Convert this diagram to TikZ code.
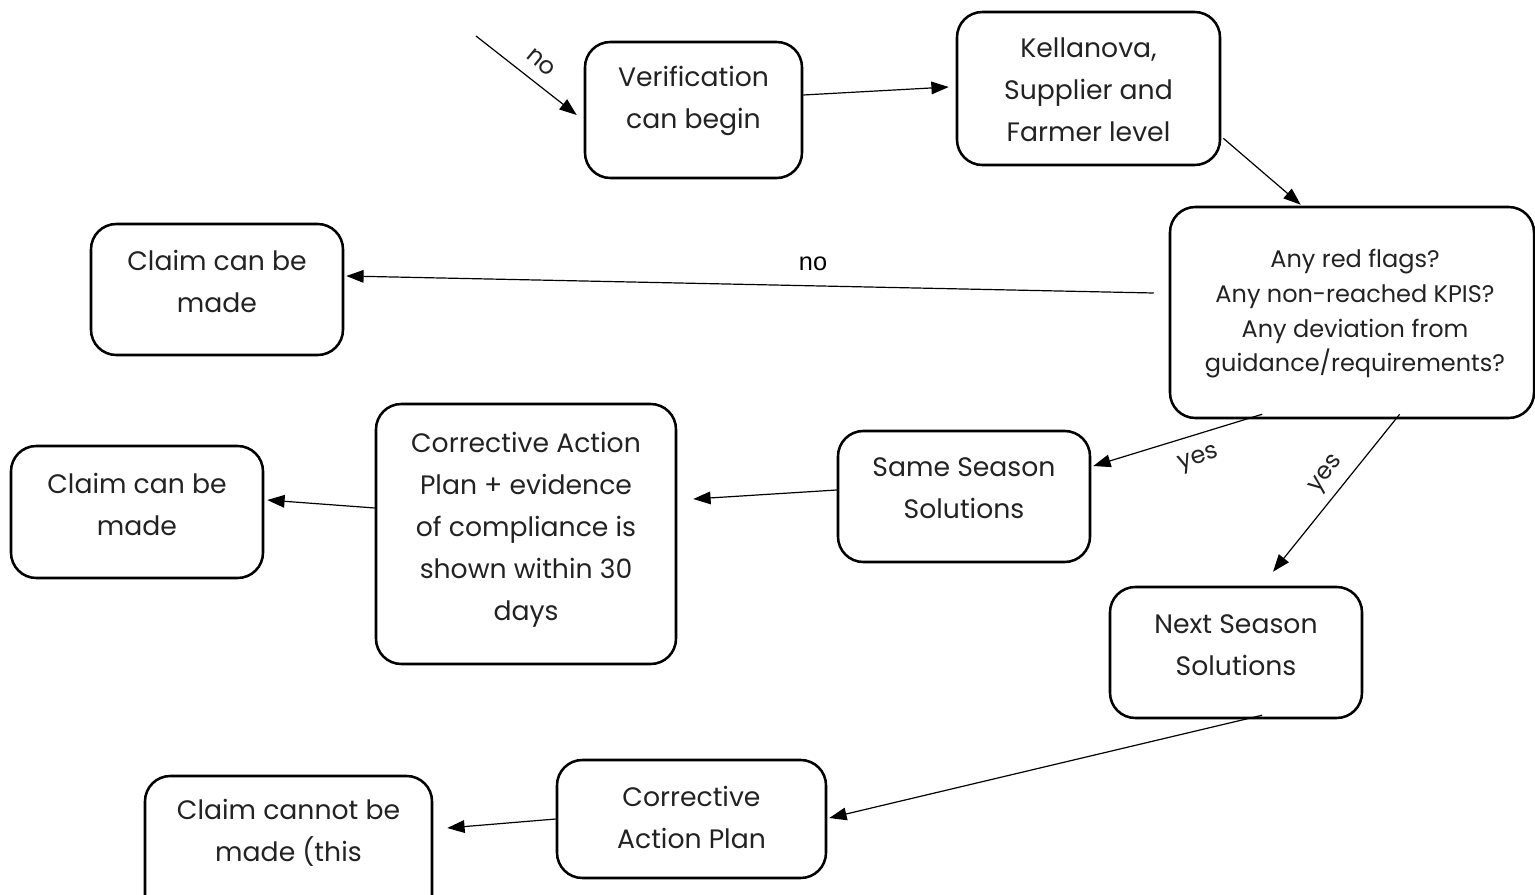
\documentclass[tikz,border=0pt]{standalone}
\usepackage{fontspec}
\setmainfont{Poppins}
\newfontfamily\lblfont{Liberation Sans}
\usetikzlibrary{arrows.meta,calc}
\definecolor{txtc}{HTML}{222222}
\tikzset{
  box/.style={draw=black, line width=1.9pt, rounded corners=19pt, fill=none, inner sep=0pt},
  txt/.style={align=center, text=txtc, font=\fontsize{20}{31.5}\selectfont, inner sep=0pt},
  smalltxt/.style={align=center, text=txtc, font=\fontsize{18}{26}\selectfont, inner sep=0pt},
  conn/.style={line width=0.9pt, -{Triangle[length=13pt,width=9.5pt]}},
  lbl/.style={text=txtc, font=\fontsize{18}{20}\selectfont, inner sep=0pt},
  lblb/.style={text=black, font=\lblfont\fontsize{19}{22}\selectfont, inner sep=0pt}
}
\begin{document}
\begin{tikzpicture}[x=0.75pt,y=-0.75pt]
\useasboundingbox (0,0) rectangle (1535,895);
\clip (0,0) rectangle (1535,895);
% boxes
\node[box, minimum width=217*0.75pt, minimum height=136*0.75pt] (ver) at (693.5,110) {};
\node[txt] (vert) at (693.5,101) {Verification\\can begin};
\node[box, minimum width=263*0.75pt, minimum height=153*0.75pt] (kel) at (1088.5,88.5) {};
\node[txt] (kelt) at (1088.5,90) {Kellanova,\\Supplier and\\Farmer level};
\node[box, minimum width=364*0.75pt, minimum height=211*0.75pt] (flags) at (1352,312.5) {};
\node[smalltxt] (flagst) at (1355,314) {Any red flags?\\Any non-reached KPIS?\\Any deviation from\\guidance/requirements?};
\node[box, minimum width=252*0.75pt, minimum height=131*0.75pt] (c1) at (217,289.5) {};
\node[txt] (c1t) at (217,281) {Claim can be\\made};
\node[box, minimum width=252*0.75pt, minimum height=131*0.75pt] (same) at (964,496.5) {};
\node[txt] (samet) at (964,488) {Same Season\\Solutions};
\node[box, minimum width=300*0.75pt, minimum height=260*0.75pt] (cap1) at (526,534) {};
\node[txt] (cap1t) at (526,530) {Corrective Action\\Plan + evidence\\of compliance is\\shown within 30\\days};
\node[box, minimum width=252*0.75pt, minimum height=132*0.75pt] (c2) at (137,512) {};
\node[txt] (c2t) at (137,504) {Claim can be\\made};
\node[box, minimum width=252*0.75pt, minimum height=131*0.75pt] (next) at (1236,652.5) {};
\node[txt] (nextt) at (1236,645) {Next Season\\Solutions};
\node[box, minimum width=269*0.75pt, minimum height=118*0.75pt] (cap2) at (691.5,819) {};
\node[txt] (cap2t) at (691.5,817) {Corrective\\Action Plan};
\node[box, minimum width=287*0.75pt, minimum height=170*0.75pt] (cnot) at (288.5,861) {};
\node[txt] (cnott) at (288.5,833) {Claim cannot be\\made (this};
% connectors
\coordinate (start) at (476,36);
\draw[conn] (start) -- ($(ver.west)+(-7,5)$);
\node[lbl, rotate=-40] (lno1) at (541,62) {no};
\draw[conn] (ver.east |- 0,95) -- ($(kel.west)+(-7,-1.5)$);
\draw[conn] ($(kel.south east)+(2,-28)$) -- ($(flags.north west)!0.36!(flags.north east)+(0,-1)$);
\draw[conn] ($(flags.west)+(-15,-19.5)$) -- ($(c1.east)+(2,-13.5)$);
\node[lblb] (lno2) at (813,264) {no};
\draw[conn] ($(flags.south west)!0.255!(flags.south east)+(0,-5)$) -- ($(same.east)+(2,-30.5)$);
\node[lbl, rotate=18] (lyes1) at (1199,460) {yes};
\draw[conn] ($(flags.south west)!0.63!(flags.south east)+(0,-5)$) -- ($(next.north)+(37,-14)$);
\node[lbl, rotate=52] (lyes2) at (1327,475) {yes};
\draw[conn] ($(same.west)+(0,-6.5)$) -- ($(cap1.east)+(16,-35)$);
\draw[conn] ($(cap1.west)+(0,-26)$) -- ($(c2.east)+(3,-12)$);
\draw[conn] ($(next.south)+(26,-4)$) -- ($(cap2.east)+(2,-1)$);
\draw[conn] ($(cap2.west)+(0,0)$) -- ($(cnot.east)+(14,-33)$);
\end{tikzpicture}
\end{document}
